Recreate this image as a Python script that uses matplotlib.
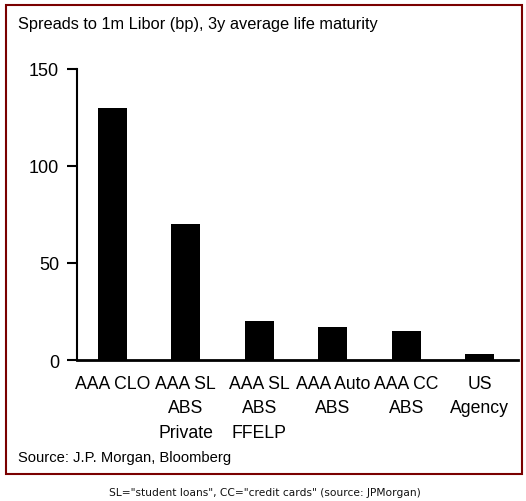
import matplotlib.pyplot as plt
from matplotlib.patches import Rectangle

categories = ["AAA CLO", "AAA SL\nABS\nPrivate", "AAA SL\nABS\nFFELP",
              "AAA Auto\nABS", "AAA CC\nABS", "US\nAgency"]
spreads = [130, 70, 20, 17, 15, 3]
yticks = [0, 50, 100, 150]

plt.rcParams['font.family'] = ['Liberation Sans', 'DejaVu Sans']

fig = plt.figure(figsize=(5.26, 5.02), dpi=100)
W, H = 526, 502

# frame around the chart
fig.patches.append(Rectangle((6 / W, 1 - 475 / H), 516 / W, 469 / H,
                             transform=fig.transFigure, fill=False,
                             edgecolor='#7a0000', linewidth=1.5))

ax = fig.add_axes([77 / W, 1 - 361 / H, (518 - 77) / W, (361 - 70) / H])
x = range(len(categories))
ax.bar(x, spreads, width=0.4, color='black')
ax.set_ylim(0, 150)
ax.set_xlim(-0.48, 5.52)
ax.set_yticks(yticks)
ax.set_yticklabels([str(t) for t in yticks], fontsize=13)
ax.set_xticks(list(x))
ax.set_xticklabels(categories, fontsize=12.7, linespacing=1.55)
ax.tick_params(axis='x', length=0, pad=11)
ax.tick_params(axis='y', length=7, width=1.5, pad=6)
for s in ['top', 'right']:
    ax.spines[s].set_visible(False)
ax.spines['left'].set_linewidth(1.5)
ax.spines['bottom'].set_linewidth(2)

fig.text(18 / W, 1 - 25 / H, "Spreads to 1m Libor (bp), 3y average life maturity",
         fontsize=11.8, va='center', ha='left')
fig.text(18 / W, 1 - 458 / H, "Source: J.P. Morgan, Bloomberg",
         fontsize=10.6, va='center', ha='left')
fig.text(265 / W, 1 - 493 / H,
         'SL="student loans", CC="credit cards" (source: JPMorgan)',
         fontsize=7.7, family='DejaVu Sans', va='center', ha='center', color='#111111')

fig.savefig('out.png', dpi=100)
